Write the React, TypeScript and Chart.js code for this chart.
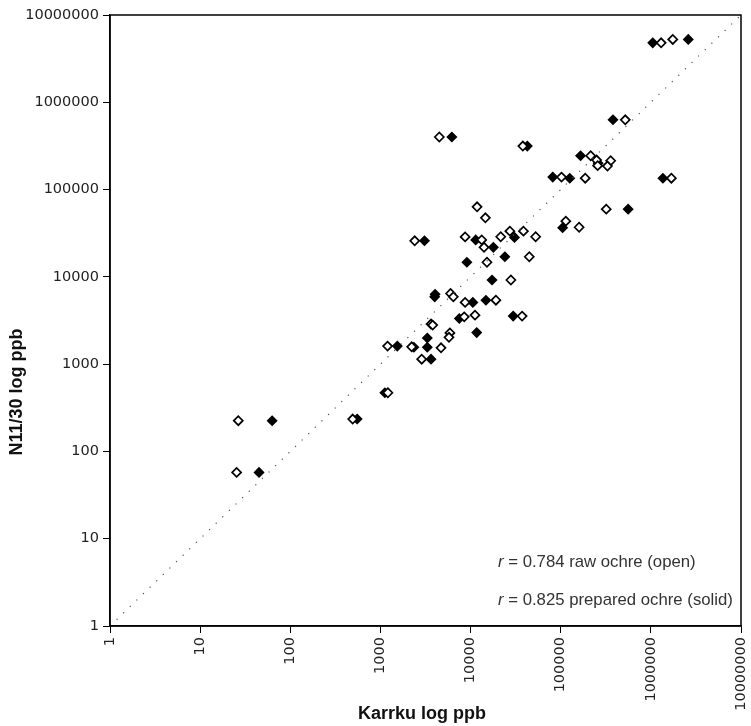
import React, { useEffect, useRef } from "react";
import { Chart, registerables } from "chart.js";

Chart.register(...registerables);

const AXIS_TICKS = [1, 10, 100, 1000, 10000, 100000, 1000000, 10000000];

// Raw ochre (open diamonds)
const openX = [1.3e6, 1.75e6, 5.2e5, 4500, 38000, 2.15e5, 2.5e5, 2.57e5, 3.58e5, 3.3e5, 1.02e5, 1.87e5, 1.69e6, 11800, 14600, 3.2e5, 1.14e5, 1.6e5, 2400, 8700, 13300, 14100, 21600, 27300, 38600, 52700, 44800, 15200, 28000, 6000, 6440, 8700, 19100, 37300, 8500, 11200, 3640, 3800, 5900, 5760, 1200, 2220, 4700, 2870, 1210, 492, 26.5, 25.4];
const openY = [4.8e6, 5.25e6, 6.3e5, 4.0e5, 3.15e5, 2.44e5, 2.18e5, 1.88e5, 2.14e5, 1.86e5, 1.39e5, 1.35e5, 1.35e5, 63500, 47500, 59700, 43500, 37000, 25900, 28700, 26500, 21800, 28800, 33400, 33400, 28800, 17000, 14700, 9200, 6450, 5900, 5100, 5400, 3550, 3480, 3640, 2880, 2800, 2280, 2030, 1610, 1580, 1540, 1140, 470, 235, 225, 57.5];

// Prepared ochre (solid diamonds)
const solidX = [1.05e6, 2.6e6, 3.8e5, 6200, 42600, 1.66e5, 2.6e5, 81600, 1.26e5, 1.36e6, 5.6e5, 1.05e5, 3080, 11400, 17900, 30700, 24000, 9100, 17300, 4040, 4000, 10600, 14800, 29700, 7500, 11700, 3310, 1540, 2350, 3310, 3640, 1120, 552, 62.9, 45];
const solidY = [4.8e6, 5.25e6, 6.3e5, 4.0e5, 3.15e5, 2.44e5, 2.0e5, 1.39e5, 1.35e5, 1.35e5, 59700, 36500, 25900, 26500, 21800, 28300, 17000, 14700, 9200, 6330, 5900, 5100, 5400, 3550, 3330, 2300, 1990, 1610, 1560, 1560, 1140, 470, 235, 225, 57.5];

const lineX = [1, 10000000];
const lineY = [1, 10000000];

const X_TITLE = "Karrku log ppb";
const Y_TITLE = "N11/30 log ppb";
const NOTE_OPEN = " = 0.784 raw ochre (open)";
const NOTE_SOLID = " = 0.825 prepared ochre (solid)";

const TICK_FONT = { family: "'DejaVu Sans', sans-serif", size: 14.5 };

const decorPlugin = {
  id: "decor",
  afterDraw(chart: any) {
    const { ctx, chartArea } = chart;
    ctx.save();
    ctx.strokeStyle = "#000";
    ctx.lineWidth = 1.5;
    ctx.strokeRect(chartArea.left, chartArea.top, chartArea.right - chartArea.left, chartArea.bottom - chartArea.top);

    ctx.fillStyle = "#111";
    ctx.font = "bold 18px 'Liberation Sans', Arial, sans-serif";
    ctx.textAlign = "center";
    ctx.textBaseline = "middle";
    ctx.fillText(X_TITLE, 422, 714);

    ctx.save();
    ctx.translate(17, 392);
    ctx.rotate(-Math.PI / 2);
    ctx.fillText(Y_TITLE, 0, 0);
    ctx.restore();

    // fit note font so the longer line spans about 235px
    ctx.font = "14px 'Liberation Sans', Arial, sans-serif";
    const baseW = ctx.measureText("r" + NOTE_SOLID).width;
    const fs = Math.max(12, Math.min(18, (14 * 235) / baseW));

    ctx.textAlign = "left";
    ctx.fillStyle = "#333";
    const drawNote = (txt: string, y: number) => {
      ctx.font = `italic ${fs}px 'Liberation Sans', Arial, sans-serif`;
      ctx.fillText("r", 498, y);
      const w = ctx.measureText("r").width;
      ctx.font = `${fs}px 'Liberation Sans', Arial, sans-serif`;
      ctx.fillText(txt, 498 + w, y);
    };
    drawNote(NOTE_OPEN, 562);
    drawNote(NOTE_SOLID, 600);
    ctx.restore();
  },
};

export default function App() {
  const ref = useRef<HTMLCanvasElement>(null);
  useEffect(() => {
    document.body.style.margin = "0";
    const canvas = ref.current!;
    const toPts = (xs: number[], ys: number[]) => xs.map((x, i) => ({ x, y: ys[i] }));
    const commonScale = (pos: string) => ({
      type: "logarithmic" as const,
      position: pos,
      min: 1,
      max: 10000000,
      afterBuildTicks: (s: any) => {
        s.ticks = AXIS_TICKS.map((v) => ({ value: v }));
      },
      ticks: {
        autoSkip: false,
        callback: (v: any) => String(v),
        font: TICK_FONT,
        color: "#222",
        padding: 4,
      },
      grid: {
        display: true,
        drawOnChartArea: false,
        drawTicks: true,
        tickLength: 7,
        color: "#000",
        lineWidth: 1,
      },
      border: { display: true, color: "#000", width: 1.5 },
    });
    const chart = new Chart(canvas, {
      type: "scatter",
      data: {
        datasets: [
          {
            type: "line",
            data: toPts(lineX, lineY),
            borderColor: "#555",
            borderWidth: 1.2,
            borderDash: [1.2, 8],
            pointRadius: 0,
            fill: false,
          } as any,
          {
            data: toPts(openX, openY),
            pointStyle: "rectRot",
            pointRadius: 4.5,
            pointBorderWidth: 1.7,
            pointBackgroundColor: "#fff",
            pointBorderColor: "#000",
          },
          {
            data: toPts(solidX, solidY),
            pointStyle: "rectRot",
            pointRadius: 4.5,
            pointBorderWidth: 1.5,
            pointBackgroundColor: "#000",
            pointBorderColor: "#000",
          },
        ],
      },
      options: {
        responsive: false,
        animation: false,
        layout: { padding: { top: 15, right: 10, left: 0, bottom: 0 } },
        plugins: { legend: { display: false }, tooltip: { enabled: false } },
        scales: {
          x: {
            ...commonScale("bottom"),
            ticks: { ...commonScale("bottom").ticks, maxRotation: 90, minRotation: 90 },
            afterFit: (s: any) => {
              s.height = 100;
              s.paddingLeft = 0;
              s.paddingRight = 0;
            },
          } as any,
          y: {
            ...commonScale("left"),
            afterFit: (s: any) => {
              s.width = 110;
              s.paddingTop = 0;
              s.paddingBottom = 0;
            },
          } as any,
        },
      },
      plugins: [decorPlugin],
    });
    return () => chart.destroy();
  }, []);
  return (
    <div style={{ width: 751, height: 726, background: "#fff" }}>
      <canvas ref={ref} width={751} height={726} style={{ display: "block" }} />
    </div>
  );
}
